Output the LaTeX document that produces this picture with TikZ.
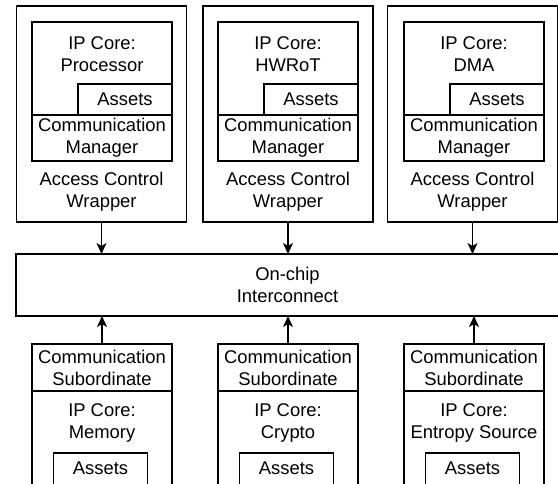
\documentclass[tikz,border=0pt]{standalone}
\usepackage{fontspec}
\newfontfamily\lbfont{Liberation Sans}
\usetikzlibrary{arrows.meta}
\tikzset{
  box/.style={draw, line width=1.4pt, rectangle, inner sep=0pt, outer sep=0pt},
  lbl/.style={align=center, inner sep=0pt, font={\lbfont\fontsize{18.4}{22}\selectfont}},
  arr/.style={line width=1.4pt, -{Stealth[length=11pt,width=10pt,inset=3pt]}}
}
\begin{document}
\begin{tikzpicture}[x=1pt,y=-1pt]
\path[use as bounding box] (0,0) rectangle (558,483);
\clip (0,0) rectangle (558,483);
% upper wrappers
\foreach \i/\wx/\cx/\nm in {1/101.5/102/Processor,2/288/288/HWRoT,3/472.5/474/DMA}{
  \node[box, minimum width=170pt, minimum height=216pt] (w\i) at (\wx,114) {};
  \node[box, minimum width=140pt, minimum height=139pt] (c\i) at (\cx,91.5) {};
  \node[lbl] (ct\i) at (\cx,54) {IP Core:\\\nm};
  \node[box, lbl, minimum width=94pt, minimum height=31pt] (a\i) at (\cx+23,99.5) {Assets};
  \node[box, lbl, minimum width=140pt, minimum height=46pt] (m\i) at (\cx,138) {Communication\\Manager};
  \node[lbl] (wt\i) at (\wx,191.5) {Access Control\\Wrapper};
}
% interconnect
\node[box, lbl, minimum width=543pt, minimum height=62pt] (ic) at (287.5,285) {On-chip\\Interconnect};
% lower cores
\foreach \i/\cx/\nm in {1/102/Memory,2/288/Crypto,3/474/Entropy Source}{
  \node[box, lbl, minimum width=140pt, minimum height=47pt] (s\i) at (\cx,367.5) {Communication\\Subordinate};
  \node[box, minimum width=140pt, minimum height=119pt] (l\i) at (\cx,450.5) {};
  \node[lbl] (lt\i) at (\cx,422.5) {IP Core:\\\nm};
  \node[box, minimum width=94pt, minimum height=37pt] (la\i) at (\cx-1.5,471.5) {};
  \node[lbl] (lat\i) at (\cx-1.5,468) {Assets};
}
% connectors
\foreach \i in {1,2,3}{
  \draw[arr] (w\i.south) -- (w\i.south |- ic.north);
  \draw[arr] (s\i.north) -- (s\i.north |- ic.south);
}
\end{tikzpicture}
\end{document}
